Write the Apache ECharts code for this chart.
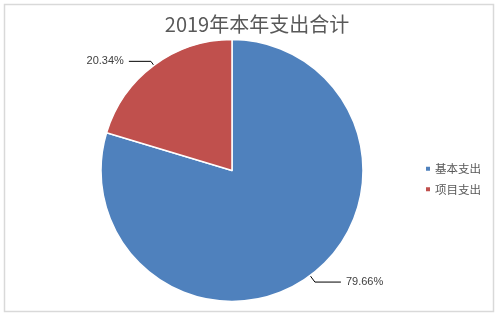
<!DOCTYPE html>
<html>
<head>
<meta charset="utf-8">
<script src="https://cdn.jsdelivr.net/npm/echarts@6/dist/echarts.min.js"></script>
<style>
html,body{margin:0;padding:0;background:#fff;}
#chart{width:499px;height:317px;}
</style>
</head>
<body>
<div id="chart"></div>
<script>
const titleText = '2019年本年支出合计';
const categories = ['基本支出', '项目支出'];
const values = [79.66, 20.34];
const colors = ['#4F81BD', '#C0504D'];

const chart = echarts.init(document.getElementById('chart'), null, {renderer: 'canvas'});
const labelLines = [
  {length: 8, length2: 26},
  {length: 5, length2: 22}
];
chart.setOption({
  animation: false,
  backgroundColor: '#fff',
  graphic: [{
    type: 'rect',
    shape: {x: 4.5, y: 4.5, width: 489, height: 307},
    style: {fill: 'none', stroke: '#d9d9d9', lineWidth: 1.5},
    silent: true
  }],
  title: {
    text: titleText,
    left: 252,
    textAlign: 'center',
    top: 9,
    textStyle: {
      fontFamily: '"Noto Sans CJK SC", sans-serif',
      fontSize: 20,
      fontWeight: 'normal',
      color: '#595959'
    }
  },
  legend: {
    orient: 'vertical',
    left: 419,
    top: 158,
    itemWidth: 6,
    itemHeight: 6,
    itemGap: 9,
    icon: 'rect',
    data: categories,
    textStyle: {
      fontFamily: '"Noto Sans CJK SC", sans-serif',
      fontSize: 11.5,
      color: '#595959',
      padding: [0, 0, 0, -1]
    }
  },
  series: [{
    type: 'pie',
    center: [232, 170.5],
    radius: 131,
    startAngle: 90,
    clockwise: true,
    itemStyle: {borderColor: '#fff', borderWidth: 1.5},
    label: {
      show: true,
      position: 'outside',
      formatter: function (p) { return p.value.toFixed(2) + '%'; },
      fontFamily: '"Liberation Sans", Arial, sans-serif',
      fontSize: 11,
      color: '#404040'
    },
    labelLine: {show: true, lineStyle: {color: '#000', width: 1}},
    data: categories.map(function (c, i) {
      return {
        name: c,
        value: values[i],
        itemStyle: {color: colors[i]},
        labelLine: labelLines[i]
      };
    })
  }]
});
</script>
</body>
</html>
